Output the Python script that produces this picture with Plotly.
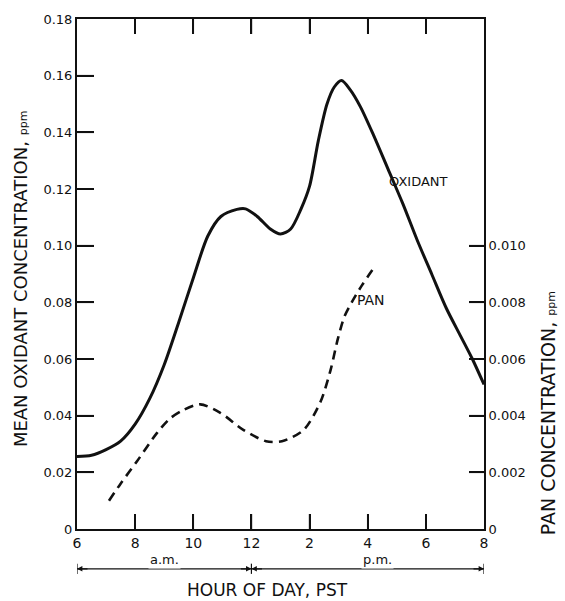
import plotly.graph_objects as go

# ---- data ----
ox_hour = [6, 6.5, 7, 7.5, 8, 8.5, 9.0, 9.5, 10, 10.5, 10.95, 11.5, 11.8, 12.2, 12.65, 13.0,
           13.35, 13.7, 14.0, 14.3, 14.6, 14.85, 15.1, 15.4, 15.75, 16.2, 16.7, 17.2, 17.7,
           18.2, 18.7, 19.2, 19.6, 20]
ox_val = [0.0256, 0.026, 0.028, 0.031, 0.037, 0.046, 0.058, 0.073, 0.0886, 0.1034, 0.1103,
          0.1128, 0.1130, 0.1103, 0.1059, 0.1041, 0.1059, 0.1128, 0.121, 0.137, 0.150, 0.156,
          0.1583, 0.155, 0.149, 0.139, 0.127, 0.115, 0.102, 0.090, 0.078, 0.068, 0.060, 0.051]

pan_hour = [7.1, 7.5, 8.07, 8.76, 9.2, 9.66, 10.24, 10.93, 11.72, 12.5, 13.05, 13.8, 14.38,
            14.72, 14.97, 15.2, 15.45, 15.8, 16.2]
pan_val = [0.0010, 0.0016, 0.0024, 0.0034, 0.0039, 0.0042, 0.0044, 0.0041, 0.0035, 0.0031,
           0.0031, 0.0035, 0.0045, 0.0056, 0.0067, 0.0075, 0.0080, 0.0086, 0.0092]

x_tickvals = [6, 8, 10, 12, 14, 16, 18, 20]
x_ticktext = ["6", "8", "10", "12", "2", "4", "6", "8"]
y_tickvals = [0, 0.02, 0.04, 0.06, 0.08, 0.10, 0.12, 0.14, 0.16, 0.18]
y_ticktext = ["0", "0.02", "0.04", "0.06", "0.08", "0.10", "0.12", "0.14", "0.16", "0.18"]
y2_tickvals = [0, 0.002, 0.004, 0.006, 0.008, 0.010]
y2_ticktext = ["0", "0.002", "0.004", "0.006", "0.008", "0.010"]

FONT = "DejaVu Sans"
BLACK = "#111111"

fig = go.Figure()
fig.add_trace(go.Scatter(x=ox_hour, y=ox_val, mode="lines",
                         line=dict(color=BLACK, width=3, shape="spline", smoothing=0.8),
                         showlegend=False, hoverinfo="skip"))
fig.add_trace(go.Scatter(x=pan_hour, y=pan_val, mode="lines", yaxis="y2",
                         line=dict(color=BLACK, width=2.6, dash="9px,6px", shape="spline", smoothing=0.8),
                         showlegend=False, hoverinfo="skip"))

fig.update_layout(
    width=565, height=601,
    margin=dict(l=77, r=81, t=17, b=72),
    paper_bgcolor="white", plot_bgcolor="white",
    font=dict(family=FONT, color=BLACK, size=13),
    xaxis=dict(range=[6, 20], tickvals=x_tickvals, ticktext=x_ticktext,
               ticks="inside", ticklen=15, tickwidth=1.5, tickcolor=BLACK,
               showline=True, linecolor=BLACK, linewidth=2, mirror="ticks",
               showgrid=False, zeroline=False, tickfont=dict(size=14)),
    yaxis=dict(range=[0, 0.18], tickvals=y_tickvals, ticktext=y_ticktext,
               ticks="inside", ticklen=17, tickwidth=1.5, tickcolor=BLACK,
               showline=True, linecolor=BLACK, linewidth=2,
               showgrid=False, zeroline=False, tickfont=dict(size=13)),
    yaxis2=dict(range=[0, 0.018], tickvals=y2_tickvals, ticktext=y2_ticktext,
                overlaying="y", side="right",
                ticks="inside", ticklen=15, tickwidth=1.5, tickcolor=BLACK,
                showline=True, linecolor=BLACK, linewidth=2,
                showgrid=False, zeroline=False, tickfont=dict(size=13)),
)

shapes = []
tick_line = dict(color=BLACK, width=1.5)
# tick marks pinned to the axes (pixel-sized, positioned by the axis scales)
for v in y_tickvals[1:-1]:
    shapes.append(dict(type="line", xref="paper", xsizemode="pixel", xanchor=0, x0=0, x1=17,
                       yref="y", y0=v, y1=v, line=tick_line, layer="above"))
for v in y2_tickvals[1:]:
    shapes.append(dict(type="line", xref="paper", xsizemode="pixel", xanchor=1, x0=0, x1=-15,
                       yref="y2", y0=v, y1=v, line=tick_line, layer="above"))
for v in x_tickvals[1:-1]:
    shapes.append(dict(type="line", yref="paper", ysizemode="pixel", yanchor=0, y0=0, y1=15,
                       xref="x", x0=v, x1=v, line=tick_line, layer="above"))
    shapes.append(dict(type="line", yref="paper", ysizemode="pixel", yanchor=1, y0=0, y1=-15,
                       xref="x", x0=v, x1=v, line=tick_line, layer="above"))

ann = []
# axis titles
ann.append(dict(xref="paper", yref="paper", x=-0.14, y=0.49, xanchor="center", yanchor="middle",
                textangle=-90, showarrow=False,
                text="MEAN OXIDANT CONCENTRATION, <span style='font-size:11px'>ppm</span>",
                font=dict(size=18, family=FONT)))
ann.append(dict(xref="paper", yref="paper", x=1.157, y=0.227, xanchor="center", yanchor="middle",
                textangle=-90, showarrow=False,
                text="PAN CONCENTRATION, <span style='font-size:11px'>ppm</span>",
                font=dict(size=19, family=FONT)))
ann.append(dict(xref="paper", yref="paper", x=0.469, y=-0.119, xanchor="center", yanchor="middle",
                showarrow=False, text="HOUR OF DAY, PST", font=dict(size=17, family=FONT)))
# curve labels
ann.append(dict(x=17.75, y=0.1228, xref="x", yref="y", showarrow=False, text="OXIDANT",
                font=dict(size=13, family=FONT)))
ann.append(dict(x=16.1, y=0.081, xref="x", yref="y", showarrow=False, text="PAN",
                font=dict(size=14, family=FONT)))

# a.m. / p.m. bracket
yb = -0.078
for x0, x1 in [(6, 12), (12, 20)]:
    shapes.append(dict(type="line", xref="x", yref="paper", x0=x0, x1=x1, y0=yb, y1=yb,
                       line=dict(color=BLACK, width=1.2)))
for xv in [6, 12, 20]:
    shapes.append(dict(type="line", xref="x", yref="paper", x0=xv, x1=xv, y0=yb - 0.01, y1=yb + 0.01,
                       line=dict(color=BLACK, width=1.2)))
for xv, dx in [(6, 1), (12, -1), (12, 1), (20, -1)]:
    ann.append(dict(x=xv, y=yb, xref="x", yref="paper", text="", showarrow=True,
                    ax=dx * 12, ay=0, arrowhead=2, arrowsize=0.9, arrowwidth=1.2, arrowcolor=BLACK))
ann.append(dict(x=9.0, y=yb, xref="x", yref="paper", text="a.m.", showarrow=False,
                bgcolor="white", font=dict(size=13, family=FONT)))
ann.append(dict(x=16.35, y=yb, xref="x", yref="paper", text="p.m.", showarrow=False,
                bgcolor="white", font=dict(size=13, family=FONT)))

fig.update_layout(annotations=ann, shapes=shapes)
fig.write_html("out.html")
